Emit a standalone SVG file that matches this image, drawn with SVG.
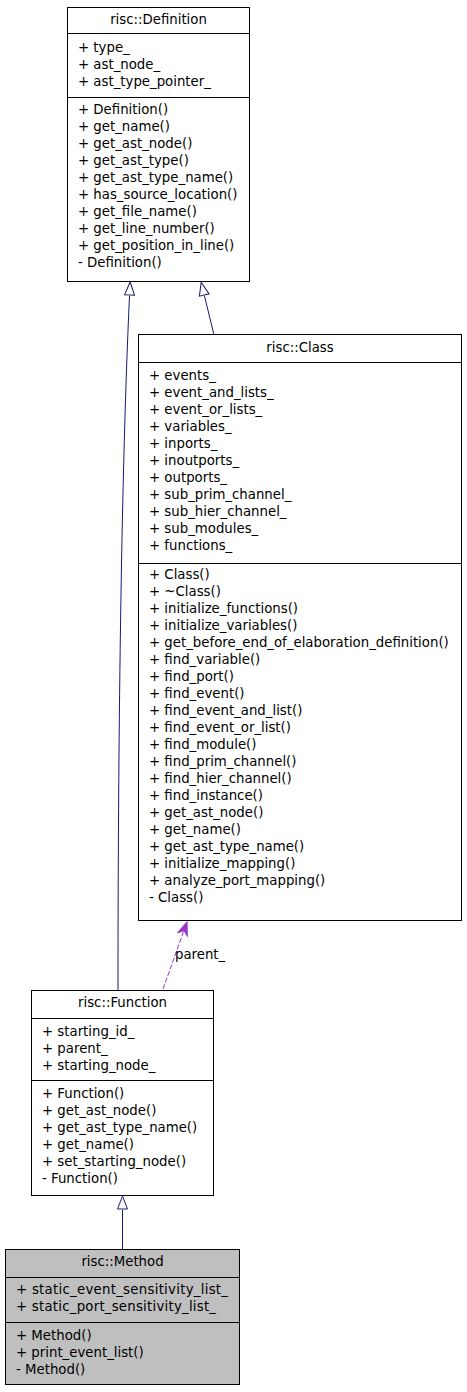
<svg xmlns="http://www.w3.org/2000/svg" width="467" height="1392" viewBox="0 0 467 1392">
<style>
text{font-family:"DejaVu Sans",sans-serif;font-size:13.3px;fill:#000}
.t{text-anchor:middle}
.box{fill:#fff;stroke:#000;stroke-width:1}
.sel{fill:#bfbfbf;stroke:#000;stroke-width:1}
.sep{stroke:#000;stroke-width:1}
.inh{fill:none;stroke:#191970;stroke-width:1}
.use{fill:none;stroke:#9a32cd;stroke-width:1;stroke-dasharray:5,2}
</style>
<defs>
<marker id="tri" viewBox="0 0 16 12" refX="0" refY="6" markerWidth="16" markerHeight="12" markerUnits="userSpaceOnUse" orient="auto">
<path d="M14,6 L1,1 L1,11 Z" fill="#fff" stroke="#191970" stroke-width="1"/>
</marker>
<marker id="vee" viewBox="0 0 16 12" refX="14" refY="6" markerWidth="16" markerHeight="12" markerUnits="userSpaceOnUse" orient="auto">
<path d="M14,6 L1,1 L5,6 L1,11 Z" fill="#9a32cd" stroke="#9a32cd" stroke-width="1"/>
</marker>
</defs>
<g id="connectors">
<path class="inh" d="M118,990 C118,800 120,500 129.5,296" marker-end="url(#tri)"/>
<path class="inh" d="M214,335 L204.5,296" marker-end="url(#tri)"/>
<path class="inh" d="M122.5,1249 L122.5,1210" marker-end="url(#tri)"/>
<path class="use" d="M163,989 L187,922" marker-end="url(#vee)"/>
<text x="175" y="959">parent_</text>
</g>
<g id="definition">
<rect class="box" x="67.5" y="7.5" width="182" height="274"/>
<line class="sep" x1="67.5" y1="33.5" x2="249.5" y2="33.5"/>
<line class="sep" x1="67.5" y1="97.5" x2="249.5" y2="97.5"/>
<text class="t" x="158.5" y="24">risc::Definition</text>
<text x="78" y="52">+ type_</text>
<text x="78" y="69">+ ast_node_</text>
<text x="78" y="86">+ ast_type_pointer_</text>
<text x="78" y="114">+ Definition()</text>
<text x="78" y="131">+ get_name()</text>
<text x="78" y="148">+ get_ast_node()</text>
<text x="78" y="165">+ get_ast_type()</text>
<text x="78" y="182">+ get_ast_type_name()</text>
<text x="78" y="199">+ has_source_location()</text>
<text x="78" y="216">+ get_file_name()</text>
<text x="78" y="233">+ get_line_number()</text>
<text x="78" y="250">+ get_position_in_line()</text>
<text x="78" y="267">- Definition()</text>
</g>
<g id="class">
<rect class="box" x="138.5" y="334.5" width="323" height="586"/>
<line class="sep" x1="138.5" y1="362.5" x2="461.5" y2="362.5"/>
<line class="sep" x1="138.5" y1="563.5" x2="461.5" y2="563.5"/>
<text class="t" x="300" y="352">risc::Class</text>
<text x="149" y="380">+ events_</text>
<text x="149" y="397">+ event_and_lists_</text>
<text x="149" y="414">+ event_or_lists_</text>
<text x="149" y="431">+ variables_</text>
<text x="149" y="448">+ inports_</text>
<text x="149" y="465">+ inoutports_</text>
<text x="149" y="482">+ outports_</text>
<text x="149" y="499">+ sub_prim_channel_</text>
<text x="149" y="516">+ sub_hier_channel_</text>
<text x="149" y="533">+ sub_modules_</text>
<text x="149" y="550">+ functions_</text>
<text x="149" y="579">+ Class()</text>
<text x="149" y="596">+ ~Class()</text>
<text x="149" y="613">+ initialize_functions()</text>
<text x="149" y="630">+ initialize_variables()</text>
<text x="149" y="647">+ get_before_end_of_elaboration_definition()</text>
<text x="149" y="664">+ find_variable()</text>
<text x="149" y="681">+ find_port()</text>
<text x="149" y="698">+ find_event()</text>
<text x="149" y="715">+ find_event_and_list()</text>
<text x="149" y="732">+ find_event_or_list()</text>
<text x="149" y="749">+ find_module()</text>
<text x="149" y="766">+ find_prim_channel()</text>
<text x="149" y="783">+ find_hier_channel()</text>
<text x="149" y="800">+ find_instance()</text>
<text x="149" y="817">+ get_ast_node()</text>
<text x="149" y="834">+ get_name()</text>
<text x="149" y="851">+ get_ast_type_name()</text>
<text x="149" y="868">+ initialize_mapping()</text>
<text x="149" y="885">+ analyze_port_mapping()</text>
<text x="149" y="902">- Class()</text>
</g>
<g id="function">
<rect class="box" x="31.5" y="990.5" width="182" height="205"/>
<line class="sep" x1="31.5" y1="1018.5" x2="213.5" y2="1018.5"/>
<line class="sep" x1="31.5" y1="1080.5" x2="213.5" y2="1080.5"/>
<text class="t" x="122.5" y="1007">risc::Function</text>
<text x="42" y="1036">+ starting_id_</text>
<text x="42" y="1053">+ parent_</text>
<text x="42" y="1070">+ starting_node_</text>
<text x="42" y="1098">+ Function()</text>
<text x="42" y="1115">+ get_ast_node()</text>
<text x="42" y="1132">+ get_ast_type_name()</text>
<text x="42" y="1149">+ get_name()</text>
<text x="42" y="1166">+ set_starting_node()</text>
<text x="42" y="1183">- Function()</text>
</g>
<g id="method">
<rect class="sel" x="5.5" y="1249.5" width="234" height="135"/>
<line class="sep" x1="5.5" y1="1277.5" x2="239.5" y2="1277.5"/>
<line class="sep" x1="5.5" y1="1322.5" x2="239.5" y2="1322.5"/>
<text class="t" x="122.5" y="1266">risc::Method</text>
<text x="16" y="1294" textLength="212" lengthAdjust="spacing">+ static_event_sensitivity_list_</text>
<text x="16" y="1311" textLength="200" lengthAdjust="spacing">+ static_port_sensitivity_list_</text>
<text x="16" y="1340">+ Method()</text>
<text x="16" y="1357">+ print_event_list()</text>
<text x="16" y="1374">- Method()</text>
</g>
</svg>
